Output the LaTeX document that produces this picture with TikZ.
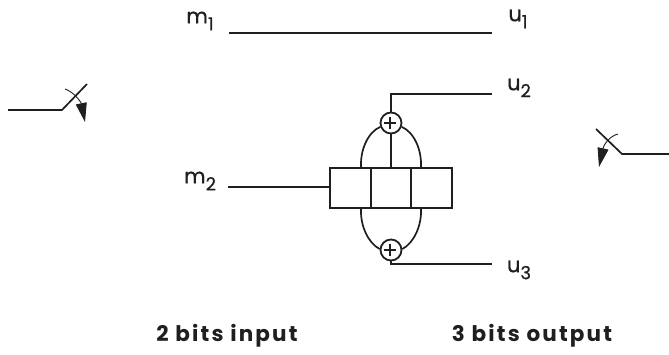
\documentclass[tikz,border=0pt]{standalone}
\usepackage{fontspec}
\setmainfont{Poppins}
\usetikzlibrary{arrows.meta}
\tikzset{
  x=1pt,y=-1pt,
  wire/.style={line width=1.7pt,color=black!88},
  lbl/.style={inner sep=0pt,font=\addfontfeature{FakeBold=0.6}\fontsize{21}{24}\selectfont,color=black!88},
  captext/.style={inner sep=0pt,font=\bfseries\addfontfeature{LetterSpace=10}\fontsize{21.5}{24}\selectfont,color=black!88},
  xorc/.style={circle,draw=black!88,line width=1.8pt,minimum size=21pt,inner sep=0pt,fill=white},
  cell/.style={rectangle,draw=black!88,line width=1.7pt,minimum width=40.5pt,minimum height=40pt,inner sep=0pt},
  sw/.style={-{Triangle[length=19pt,width=11pt]},line width=0.9pt,color=black!88}
}
\newcommand{\subt}[1]{\raisebox{-7pt}{\fontsize{18}{18}\selectfont #1}}
\begin{document}
\begin{tikzpicture}
\useasboundingbox (0,0) rectangle (669,355);
% labels
\node[lbl] (m1) at (200,21) {m\subt{1}};
\node[lbl] (u1) at (518,19) {u\subt{1}};
\node[lbl] (u2) at (519,88) {u\subt{2}};
\node[lbl] (m2) at (200,181) {m\subt{2}};
\node[lbl] (u3) at (519,270) {u\subt{3}};
\node[captext] (t1) at (227,336) {2 bits input};
\node[captext] (t2) at (532,336) {3 bits output};
% register
\node[cell] (c1) at (350.5,188) {};
\node[cell] (c2) at (391,188) {};
\node[cell] (c3) at (431.5,188) {};
% adders
\node[xorc] (xt) at (391,123) {};
\node[xorc] (xb) at (391,250) {};
\draw[wire,line width=2.2pt] (xt.west) ++(4.5,0) -- ++(12,0) ++(-6,-6) -- ++(0,12);
\draw[wire,line width=2.2pt] (xb.west) ++(4.5,0) -- ++(12,0) ++(-6,-6) -- ++(0,12);
% free ends
\coordinate (a1) at (229,33);
\coordinate (a2) at (492,33);
\coordinate (b2) at (492,94);
\coordinate (b3) at (492,264);
\coordinate (a3) at (228,187);
\draw[wire] (a1) -- (a2);
\draw[wire] (xt.north) |- (b2);
\draw[wire] (xb.south) |- (b3);
\draw[wire] (a3) -- (c1.west |- a3);
\draw[wire] (xt.south) -- (c2.north);
\draw[wire] (xt.200) .. controls (368,132) and (360,150) .. ([xshift=-10.5]c1.north east);
\draw[wire] (xt.340) .. controls (414,132) and (422,150) .. ([xshift=10.5]c3.north west);
\draw[wire] (xb.175) .. controls (368,243) and (360,225) .. ([xshift=-10.5]c1.south east);
\draw[wire] (xb.5) .. controls (414,243) and (422,225) .. ([xshift=10.5]c3.south west);
% switches
\coordinate (l0) at (8,110);
\coordinate (l1) at (62,110);
\coordinate (l2) at (87,84);
\coordinate (l3) at (65,89);
\coordinate (l4) at (85,122);
\draw[wire] (l0) -- (l1) -- (l2);
\draw[sw] (l3) .. controls (74,92) and (81,102) .. (l4);
\coordinate (r0) at (669,154);
\coordinate (r1) at (622,154);
\coordinate (r2) at (596,129);
\coordinate (r3) at (618,134);
\coordinate (r4) at (599,167);
\draw[wire] (r0) -- (r1) -- (r2);
\draw[sw] (r3) .. controls (610,136) and (604,144) .. (r4);
\end{tikzpicture}
\end{document}
